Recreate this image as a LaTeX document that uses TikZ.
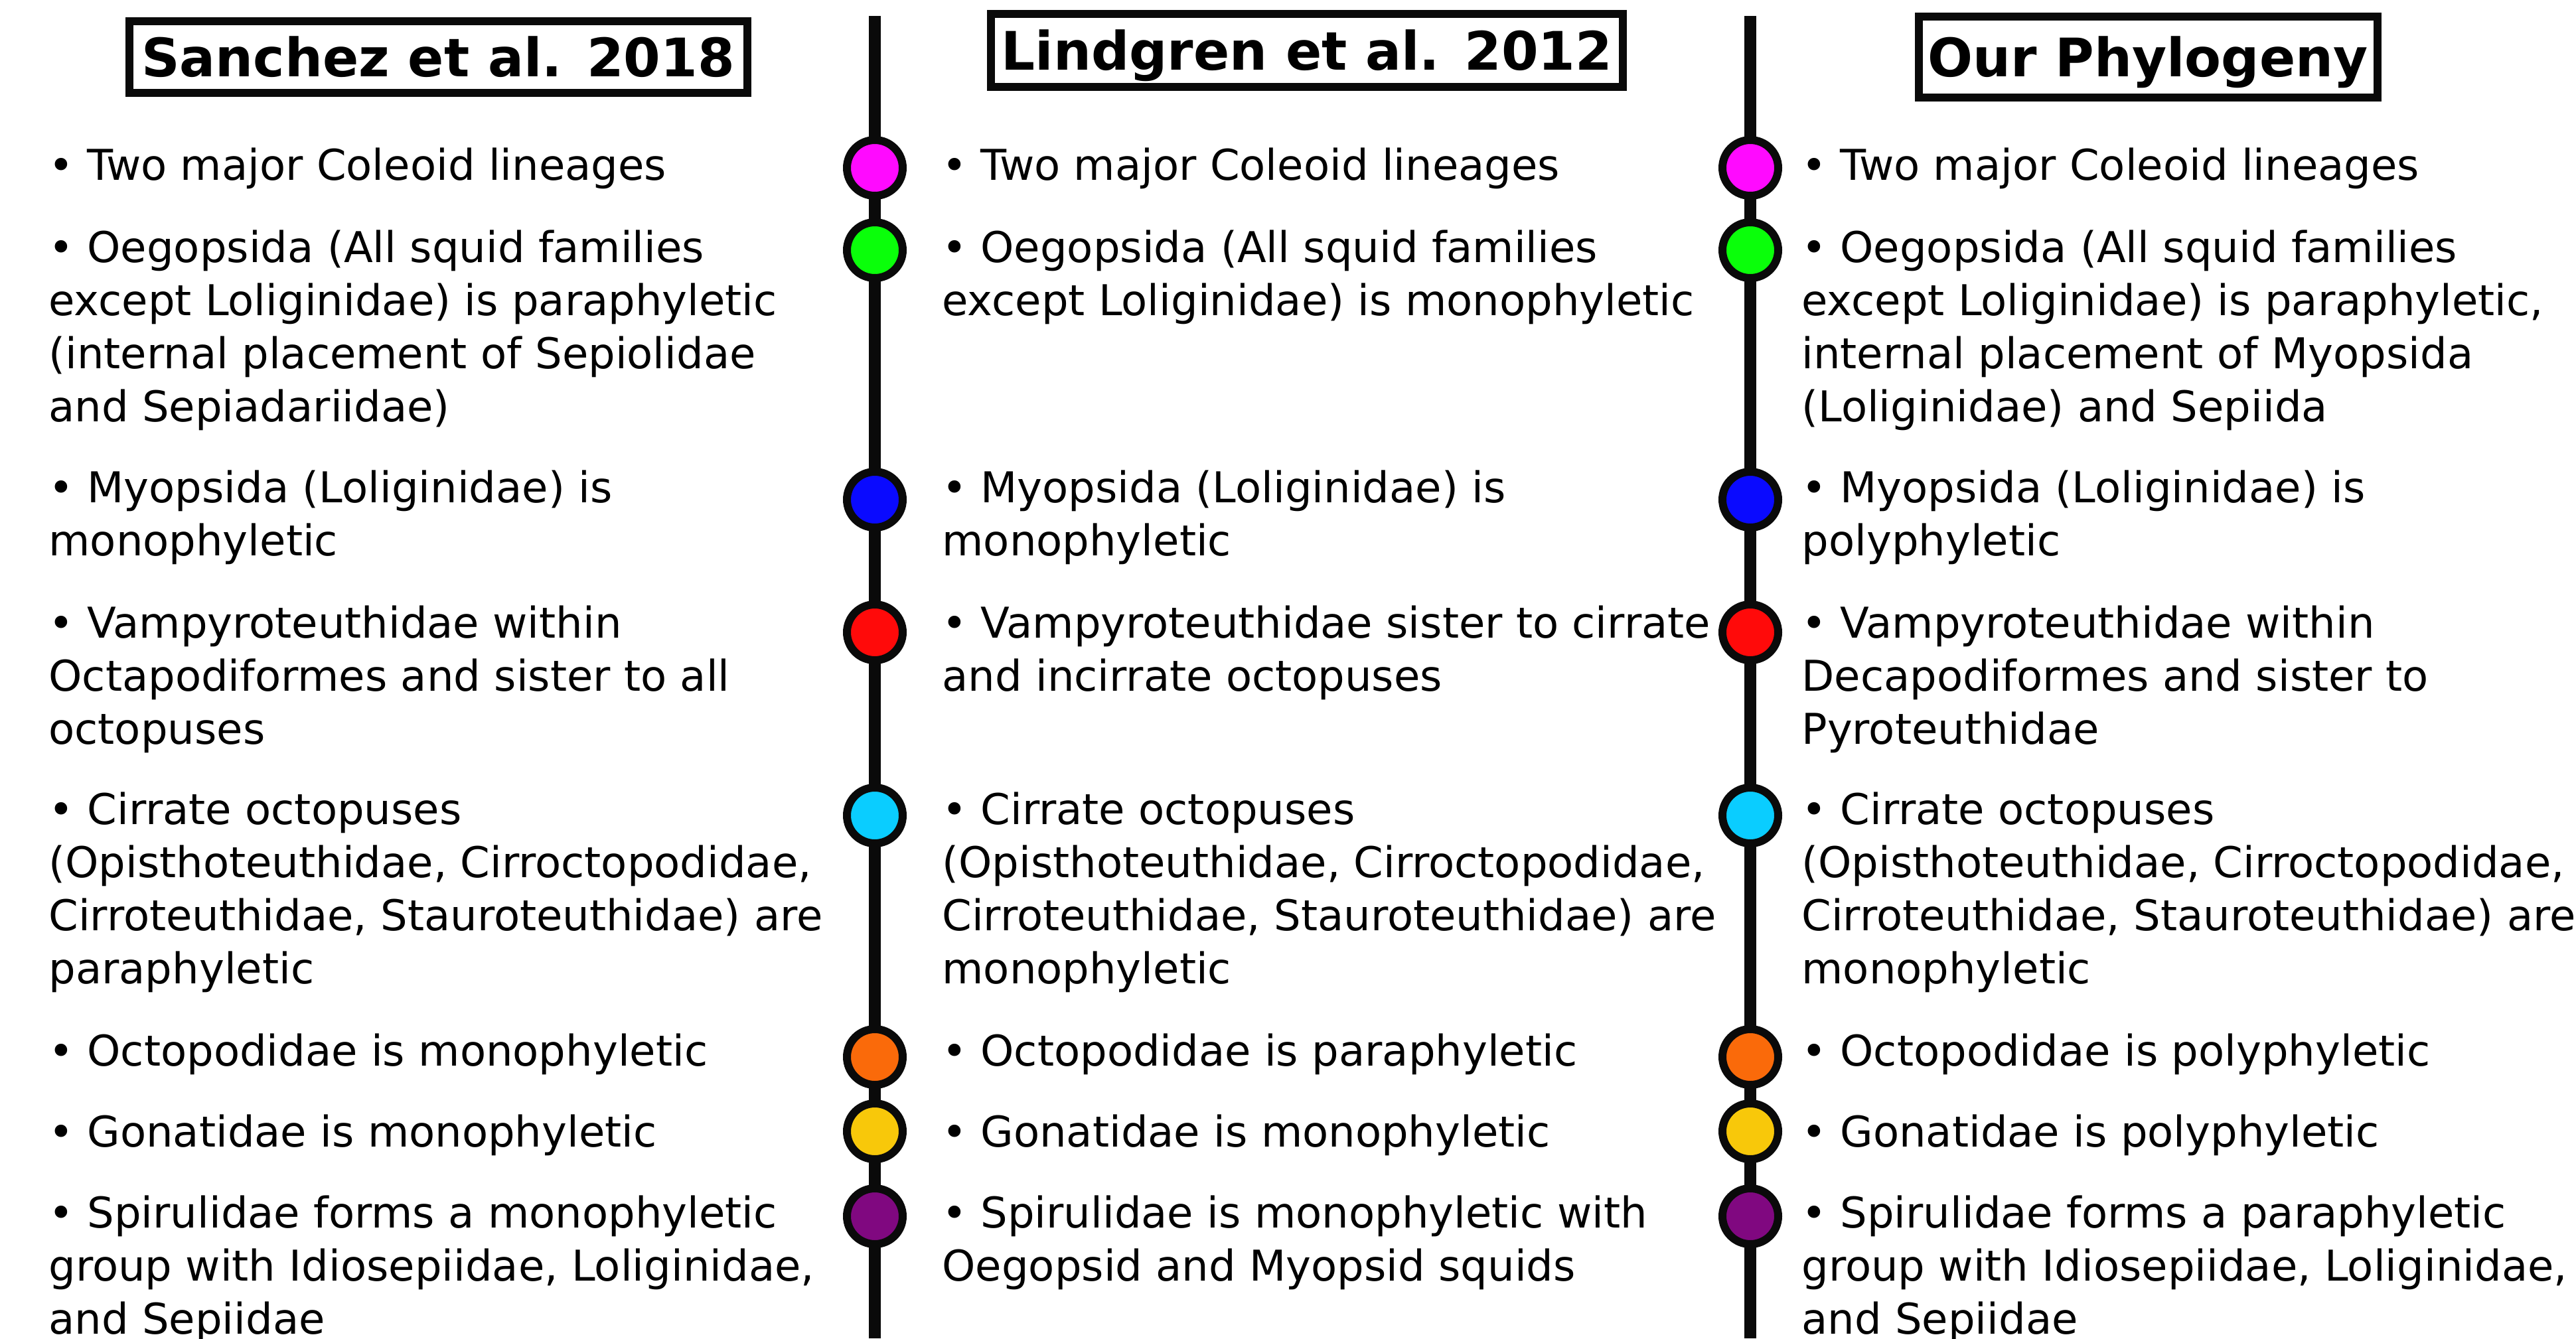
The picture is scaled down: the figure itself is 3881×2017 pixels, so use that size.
\documentclass[tikz,border=0pt]{standalone}
\usepackage{fontspec}
\setmainfont{DejaVu Sans}
\usepackage{tikz}
\definecolor{rowmagenta}{RGB}{255,10,255}
\definecolor{rowgreen}{RGB}{10,255,10}
\definecolor{rowblue}{RGB}{10,10,255}
\definecolor{rowred}{RGB}{255,10,10}
\definecolor{rowcyan}{RGB}{10,205,255}
\definecolor{roworange}{RGB}{250,106,10}
\definecolor{rowyellow}{RGB}{248,200,10}
\definecolor{rowpurple}{RGB}{128,8,128}
\definecolor{inkline}{RGB}{10,10,10}
\tikzset{every picture/.style={line width=0.75pt}}
\tikzset{
  headbox/.style={draw=inkline, line width=3pt, fill=white, inner sep=0pt,
    font=\fontsize{20}{24}\selectfont\bfseries, text height=14.5pt, text depth=0pt},
  spine/.style={draw=inkline, line width=4.5pt},
  marker/.style={circle, draw=inkline, line width=3pt, minimum size=21pt, inner sep=0pt},
  point/.style={anchor=north west, align=left, inner sep=0pt,
    font=\fontsize{16}{20}\selectfont, execute at begin node=\strut},
}

\begin{document}
\begin{tikzpicture}[x=0.25pt,y=0.25pt,yscale=-1,xscale=1]
\useasboundingbox (0,0) rectangle (3881,2017);

% Headers
\node[headbox, minimum width=232.75pt, minimum height=27pt] (sanchez) at (660,86) {Sanchez et al. 2018};
\node[headbox, minimum width=238pt, minimum height=27.5pt] (lindgren) at (1969,76) {Lindgren et al. 2012};
\node[headbox, minimum width=172.75pt, minimum height=30.5pt] (ours) at (3236,86) {Our Phylogeny};

% Timelines
\coordinate (spineL-top) at (1318,24);
\coordinate (spineL-bot) at (1318,2017);
\coordinate (spineR-top) at (2637,24);
\coordinate (spineR-bot) at (2637,2017);
\draw[spine] (spineL-top) -- (spineL-bot);
\draw[spine] (spineR-top) -- (spineR-bot);

% Markers
\foreach \y/\c/\n in {253/rowmagenta/1, 377/rowgreen/2, 753/rowblue/3, 953/rowred/4,
                      1229/rowcyan/5, 1593/roworange/6, 1705/rowyellow/7, 1833/rowpurple/8}{
  \node[marker, fill=\c] (dotL\n) at (1318,\y) {};
  \node[marker, fill=\c] (dotR\n) at (2637,\y) {};
}

% Sanchez et al. 2018
\node[point] (sanchez1) at (72,214) {• Two major Coleoid lineages};
\node[point] (sanchez2) at (72,345) {• Oegopsida (All squid families\\except Loliginidae) is paraphyletic\\(internal placement of Sepiolidae\\and Sepiadariidae)};
\node[point] (sanchez3) at (72,707) {• Myopsida (Loliginidae) is\\monophyletic};
\node[point] (sanchez4) at (72,911) {• Vampyroteuthidae within\\Octapodiformes and sister to all\\octopuses};
\node[point] (sanchez5) at (72,1192) {• Cirrate octopuses\\(Opisthoteuthidae, Cirroctopodidae,\\Cirroteuthidae, Stauroteuthidae) are\\paraphyletic};
\node[point] (sanchez6) at (72,1549) {• Octopodidae is monophyletic};
\node[point] (sanchez7) at (72,1671) {• Gonatidae is monophyletic};
\node[point] (sanchez8) at (72,1800) {• Spirulidae forms a monophyletic\\group with Idiosepiidae, Loliginidae,\\and Sepiidae};

% Lindgren et al. 2012
\node[point] (lindgren1) at (1418,214) {• Two major Coleoid lineages};
\node[point] (lindgren2) at (1418,345) {• Oegopsida (All squid families\\except Loliginidae) is monophyletic};
\node[point] (lindgren3) at (1418,707) {• Myopsida (Loliginidae) is\\monophyletic};
\node[point] (lindgren4) at (1418,911) {• Vampyroteuthidae sister to cirrate\\and incirrate octopuses};
\node[point] (lindgren5) at (1418,1192) {• Cirrate octopuses\\(Opisthoteuthidae, Cirroctopodidae,\\Cirroteuthidae, Stauroteuthidae) are\\monophyletic};
\node[point] (lindgren6) at (1418,1549) {• Octopodidae is paraphyletic};
\node[point] (lindgren7) at (1418,1671) {• Gonatidae is monophyletic};
\node[point] (lindgren8) at (1418,1800) {• Spirulidae is monophyletic with\\Oegopsid and Myopsid squids};

% Our Phylogeny
\node[point] (ours1) at (2713,214) {• Two major Coleoid lineages};
\node[point] (ours2) at (2713,345) {• Oegopsida (All squid families\\except Loliginidae) is paraphyletic,\\internal placement of Myopsida\\(Loliginidae) and Sepiida};
\node[point] (ours3) at (2713,707) {• Myopsida (Loliginidae) is\\polyphyletic};
\node[point] (ours4) at (2713,911) {• Vampyroteuthidae within\\Decapodiformes and sister to\\Pyroteuthidae};
\node[point] (ours5) at (2713,1192) {• Cirrate octopuses\\(Opisthoteuthidae, Cirroctopodidae,\\Cirroteuthidae, Stauroteuthidae) are\\monophyletic};
\node[point] (ours6) at (2713,1549) {• Octopodidae is polyphyletic};
\node[point] (ours7) at (2713,1671) {• Gonatidae is polyphyletic};
\node[point] (ours8) at (2713,1800) {• Spirulidae forms a paraphyletic\\group with Idiosepiidae, Loliginidae,\\and Sepiidae};

\end{tikzpicture}
\end{document}
